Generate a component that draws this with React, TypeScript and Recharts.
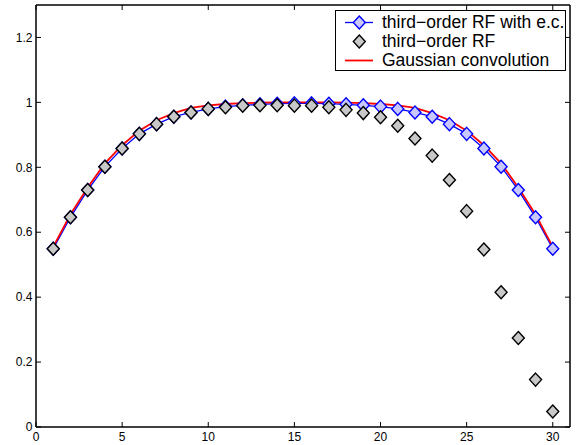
import React from 'react';
import { ComposedChart, Line, XAxis, YAxis, Legend } from 'recharts';

const positions = [1, 2, 3, 4, 5, 6, 7, 8, 9, 10, 11, 12, 13, 14, 15, 16, 17, 18, 19, 20, 21, 22, 23, 24, 25, 26, 27, 28, 29, 30];

const rfWithEc = [
  0.549, 0.646, 0.730, 0.802, 0.858, 0.903, 0.933, 0.956, 0.969, 0.980,
  0.987, 0.991, 0.994, 0.996, 0.997, 0.997, 0.996, 0.994, 0.991, 0.987,
  0.980, 0.969, 0.956, 0.933, 0.903, 0.858, 0.802, 0.730, 0.646, 0.549,
];

const rfThird = [
  0.549, 0.646, 0.730, 0.802, 0.858, 0.903, 0.933, 0.956, 0.969, 0.980,
  0.985, 0.990, 0.991, 0.991, 0.990, 0.990, 0.985, 0.977, 0.967, 0.954,
  0.928, 0.889, 0.836, 0.761, 0.665, 0.547, 0.415, 0.274, 0.146, 0.048,
];

const gaussConv = [
  0.555, 0.655, 0.738, 0.812, 0.868, 0.913, 0.945, 0.967, 0.983, 0.991,
  0.995, 0.998, 0.999, 1.0, 1.0, 1.0, 1.0, 0.999, 0.998, 0.995,
  0.991, 0.983, 0.967, 0.945, 0.913, 0.868, 0.812, 0.738, 0.655, 0.555,
];

const xTicks = [0, 5, 10, 15, 20, 25, 30];
const yTicks = [0, 0.2, 0.4, 0.6, 0.8, 1, 1.2];

const legendLabels = ['third\u2212order RF with e.c.', 'third\u2212order RF', 'Gaussian convolution'];

const data = positions.map((x, i) => ({ x, ec: rfWithEc[i], rf: rfThird[i], gauss: gaussConv[i] }));

const FONT = '"Liberation Sans", Arial, Helvetica, sans-serif';

const diamond = (cx: number, cy: number, fill: string, stroke: string, key?: any) => (
  <polygon
    key={key}
    points={`${cx},${cy - 6.5} ${cx + 6},${cy} ${cx},${cy + 6.5} ${cx - 6},${cy}`}
    fill={fill}
    stroke={stroke}
    strokeWidth={1.4}
  />
);

const blueDot = (p: any) => diamond(p.cx, p.cy, '#c8c8ff', '#0000ff', p.key ?? p.index);
const grayDot = (p: any) => diamond(p.cx, p.cy, '#c8c8c8', '#000', p.key ?? p.index);

const BottomTick = ({ x, y, payload }: any) => (
  <g>
    <line x1={x} x2={x} y1={y} y2={y - 5} stroke="#000" strokeWidth={1} />
    <text x={x} y={y + 13.5} textAnchor="middle" fontSize={12} fontFamily={FONT} fill="#000">{payload.value}</text>
  </g>
);
const TopTick = ({ x, y }: any) => <line x1={x} x2={x} y1={y} y2={y + 5} stroke="#000" strokeWidth={1} />;
const LeftTick = ({ x, y, payload }: any) => (
  <g>
    <line x1={x} x2={x + 5} y1={y} y2={y} stroke="#000" strokeWidth={1} />
    <text x={x - 3.5} y={y + 4.2} textAnchor="end" fontSize={12} fontFamily={FONT} fill="#000">{payload.value}</text>
  </g>
);
const RightTick = ({ x, y }: any) => <line x1={x} x2={x - 5} y1={y} y2={y} stroke="#000" strokeWidth={1} />;

const renderLegend = () => (
  <div style={{ border: '1px solid #000', background: '#fff', boxSizing: 'border-box', height: 61, paddingTop: 2, fontFamily: FONT }}>
    {legendLabels.map((label, i) => (
      <div key={label} style={{ display: 'flex', alignItems: 'center', height: 19, fontSize: 17.5, lineHeight: '19px', color: '#000', whiteSpace: 'nowrap' }}>
        <svg width={46} height={19} style={{ flex: 'none' }}>
          {i !== 1 && <line x1={9} x2={37} y1={9.5} y2={9.5} stroke={i === 0 ? '#0000ff' : '#ff0000'} strokeWidth={i === 0 ? 1.3 : 1.8} />}
          {i === 0 && diamond(23.3, 9.5, '#c8c8ff', '#0000ff')}
          {i === 1 && diamond(23.3, 9.5, '#c8c8c8', '#000')}
        </svg>
        <span>{label}</span>
      </div>
    ))}
  </div>
);

export default function App() {
  return (
    <div style={{ position: 'absolute', left: 0, top: 0, width: 577, height: 445, background: '#fff' }}>
      <ComposedChart width={577} height={445} data={data} margin={{ top: 4, right: 6, bottom: 0, left: 0 }}>
        <XAxis dataKey="x" type="number" domain={[0, 31]} ticks={xTicks} interval={0} height={18}
          axisLine={{ stroke: '#000', strokeWidth: 1.5 }} tickLine={false} tickSize={0} tickMargin={0} tick={<BottomTick />} />
        <XAxis xAxisId="top" orientation="top" dataKey="x" type="number" domain={[0, 31]} ticks={xTicks} interval={0} height={1}
          axisLine={{ stroke: '#000', strokeWidth: 1.5 }} tickLine={false} tickSize={0} tickMargin={0} tick={<TopTick />} />
        <YAxis type="number" domain={[0, 1.3]} ticks={yTicks} interval={0} width={36}
          axisLine={{ stroke: '#000', strokeWidth: 1.5 }} tickLine={false} tickSize={0} tickMargin={0} tick={<LeftTick />} />
        <YAxis yAxisId="right" orientation="right" type="number" domain={[0, 1.3]} ticks={yTicks} interval={0} width={1}
          axisLine={{ stroke: '#000', strokeWidth: 1.5 }} tickLine={false} tickSize={0} tickMargin={0} tick={<RightTick />} />
        <Line dataKey="ec" stroke="#0000ff" strokeWidth={1.3} dot={blueDot} activeDot={false} isAnimationActive={false} />
        <Line xAxisId="top" yAxisId="right" dataKey="rf" stroke="none" dot={grayDot} activeDot={false} isAnimationActive={false} />
        <Line dataKey="gauss" stroke="#ff0000" strokeWidth={1.8} dot={false} activeDot={false} isAnimationActive={false} />
        <Legend layout="vertical" align="center" verticalAlign="middle" content={renderLegend}
          wrapperStyle={{ top: 10, left: 335, width: 231, height: 61 }} />
      </ComposedChart>
    </div>
  );
}
